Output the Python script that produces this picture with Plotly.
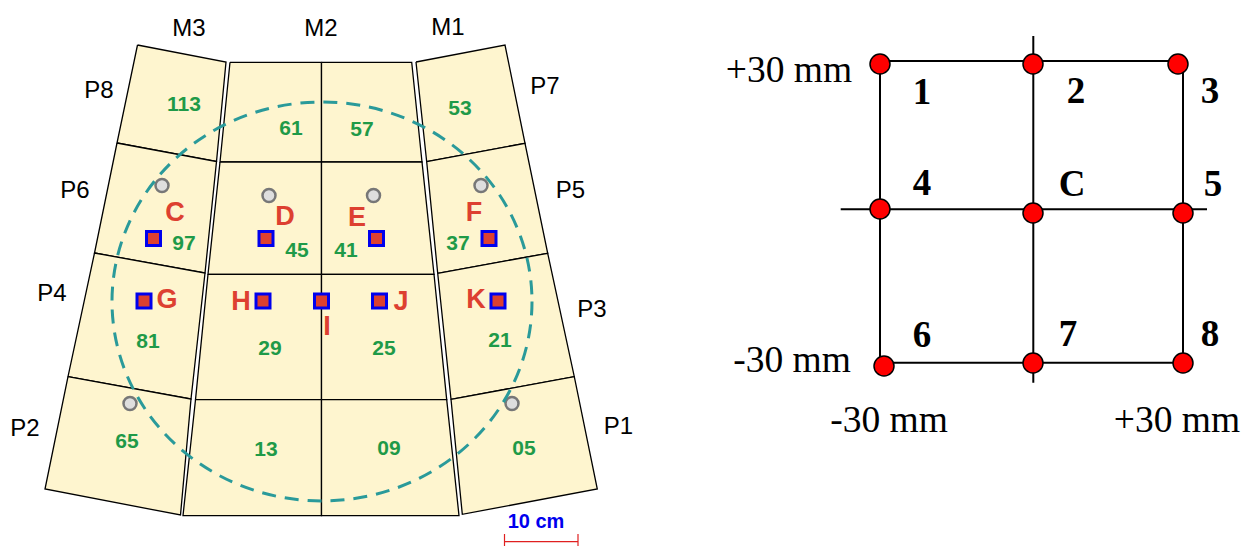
import plotly.graph_objects as go

# ---- left diagram: outer (P) modules, corners as (x, y)
p_names = ["P8", "P6", "P4", "P2", "P7", "P5", "P3", "P1"]
p_x = [
    [137.5, 226, 216.5, 117], [117, 216.5, 205, 94.5], [94.5, 205, 191, 68], [68, 191, 180.5, 45],
    [416, 505, 525, 426.7], [426.7, 525, 547.7, 437.7], [437.7, 547.7, 574.3, 451], [451, 574.3, 597.3, 462.3],
]
p_y = [
    [45, 62, 161.5, 143], [143, 161.5, 273, 253], [253, 273, 399, 376.7], [376.7, 399, 515, 489],
    [62, 45, 143.3, 161.7], [161.7, 143.3, 253.3, 273.3], [273.3, 253.3, 376.7, 399.3], [399.3, 376.7, 489, 514.3],
]
# central (M2) column: rows and edges
m_row_y = [62.3, 162, 274.3, 399.7, 515.7]
m_left_x = [230, 220, 208, 195.5, 183]
m_mid_x = [321.5, 321.5, 321.5, 321.5, 321.5]
m_right_x = [411.7, 422, 434, 446.7, 459]

# module labels
module_labels = ["M3", "M2", "M1", "P8", "P6", "P4", "P2", "P7", "P5", "P3", "P1"]
module_label_x = [189, 321, 448, 99, 75, 52, 25, 545, 570.5, 592, 618.5]
module_label_y = [30, 30, 29, 92, 192, 295, 430, 88, 192, 311, 428]

# channel numbers
channel_labels = ["113", "61", "57", "53", "97", "45", "41", "37", "81", "29", "25", "21", "65", "13", "09", "05"]
channel_x = [184, 291, 362, 460, 184, 297, 346, 458, 148, 270, 384, 500, 127, 266, 389, 524]
channel_y = [106, 130, 131, 110, 245, 252, 252, 245, 343, 350, 350, 342, 443, 451, 450, 450]

# position letters
letter_labels = ["C", "D", "E", "F", "G", "H", "I", "J", "K"]
letter_x = [175, 285, 357, 474, 167, 241, 327, 401, 476]
letter_y = [214, 218, 219, 214, 301, 303, 328, 303, 301]

# blue/red square markers
square_x = [153.5, 266, 376.5, 489, 144, 263, 321.5, 379.5, 498]
square_y = [238.5, 238.5, 238.5, 238.5, 301, 301, 301, 301, 301]

# grey round markers
grey_x = [162, 269, 373.5, 481, 130, 512]
grey_y = [185.5, 195.5, 195.5, 185.5, 403.5, 403.5]

# dashed ellipse extents
ellipse_x = [112, 532]
ellipse_y = [102, 501]

# 10 cm scale bar
scale_x = [504.5, 578]
scale_y = [541.7, 541.7]
scale_tick_y = [534, 546]

# ---- right diagram
grid_v_x = [880, 1033.3, 1183]
grid_v_y0 = [61, 36, 61]
grid_v_y1 = [363, 382.7, 363]
grid_h_y = [61, 209.3, 362.7]
grid_h_x0 = [880, 840.7, 880]
grid_h_x1 = [1183, 1207, 1183]
point_x = [880, 1033, 1178, 880, 1033, 1183, 884, 1033, 1183]
point_y = [64, 64, 64, 209, 213, 213, 366, 363, 363]
point_labels = ["1", "2", "3", "4", "C", "5", "6", "7", "8"]
point_label_x = [922, 1076, 1210, 922, 1072, 1213, 922, 1068, 1210]
point_label_y = [95, 94, 94, 186, 187, 187, 338, 337, 337]
axis_labels = ["+30 mm", "-30 mm", "-30 mm", "+30 mm"]
axis_label_x = [789, 792, 889, 1177]
axis_label_y = [73, 363, 423, 423]

CREAM = "#fef5cf"
fig = go.Figure()


def poly(xs, ys):
    fig.add_trace(go.Scatter(x=list(xs) + [xs[0]], y=list(ys) + [ys[0]], mode="lines", fill="toself",
                             fillcolor=CREAM, line=dict(color="black", width=1.3), hoverinfo="skip"))


def line(xs, ys, color="black", width=2.0):
    fig.add_trace(go.Scatter(x=xs, y=ys, mode="lines", line=dict(color=color, width=width), hoverinfo="skip"))


def text(labels, xs, ys, family, size, color, bold=False):
    fig.add_trace(go.Scatter(x=xs, y=ys, mode="text", text=[f"<b>{t}</b>" if bold else t for t in labels],
                             textposition="middle center", hoverinfo="skip",
                             textfont=dict(family=family, size=size, color=color)))


for xs, ys in zip(p_x, p_y):
    poly(xs, ys)
for r in range(4):
    poly([m_left_x[r], m_mid_x[r], m_mid_x[r + 1], m_left_x[r + 1]], [m_row_y[r], m_row_y[r], m_row_y[r + 1], m_row_y[r + 1]])
    poly([m_mid_x[r], m_right_x[r], m_right_x[r + 1], m_mid_x[r + 1]], [m_row_y[r], m_row_y[r], m_row_y[r + 1], m_row_y[r + 1]])

fig.add_shape(type="circle", x0=ellipse_x[0], x1=ellipse_x[1], y0=ellipse_y[0], y1=ellipse_y[1],
              line=dict(color="#2a9a9a", width=3, dash="14px,9px"), layer="above")

fig.add_trace(go.Scatter(x=grey_x, y=grey_y, mode="markers", hoverinfo="skip",
                         marker=dict(symbol="circle", size=13, color="#dedede", line=dict(color="#777777", width=2.5))))
fig.add_trace(go.Scatter(x=square_x, y=square_y, mode="markers", hoverinfo="skip",
                         marker=dict(symbol="square", size=14, color="#dd4030", line=dict(color="#0000ee", width=3))))

text(module_labels, module_label_x, module_label_y, "Liberation Sans", 24, "black")
text(channel_labels, channel_x, channel_y, "Liberation Sans", 21, "#1f9a48", True)
text(letter_labels, letter_x, letter_y, "Liberation Sans", 27, "#dd4030", True)

line(scale_x, scale_y, "#e02020", 1.2)
for sx in scale_x:
    line([sx, sx], scale_tick_y, "#e02020", 1.2)
text(["10 cm"], [536], [523], "Liberation Sans", 20, "#0000ee", True)

for x, y0, y1 in zip(grid_v_x, grid_v_y0, grid_v_y1):
    line([x, x], [y0, y1])
for y, x0, x1 in zip(grid_h_y, grid_h_x0, grid_h_x1):
    line([x0, x1], [y, y])
fig.add_trace(go.Scatter(x=point_x, y=point_y, mode="markers", hoverinfo="skip",
                         marker=dict(symbol="circle", size=20, color="#ff0000", line=dict(color="black", width=1.5))))
text(point_labels, point_label_x, point_label_y, "Liberation Serif", 37, "black", True)
text(axis_labels, axis_label_x, axis_label_y, "Liberation Serif", 37.5, "black")

fig.update_layout(width=1244, height=546, margin=dict(l=0, r=0, t=0, b=0), showlegend=False,
                  plot_bgcolor="white", paper_bgcolor="white",
                  xaxis=dict(range=[0, 1244], visible=False, fixedrange=True),
                  yaxis=dict(range=[546, 0], visible=False, fixedrange=True))
fig.write_html("out.html", config=dict(displayModeBar=False),
               post_script="document.body.style.margin='0';document.body.style.overflow='hidden';")
